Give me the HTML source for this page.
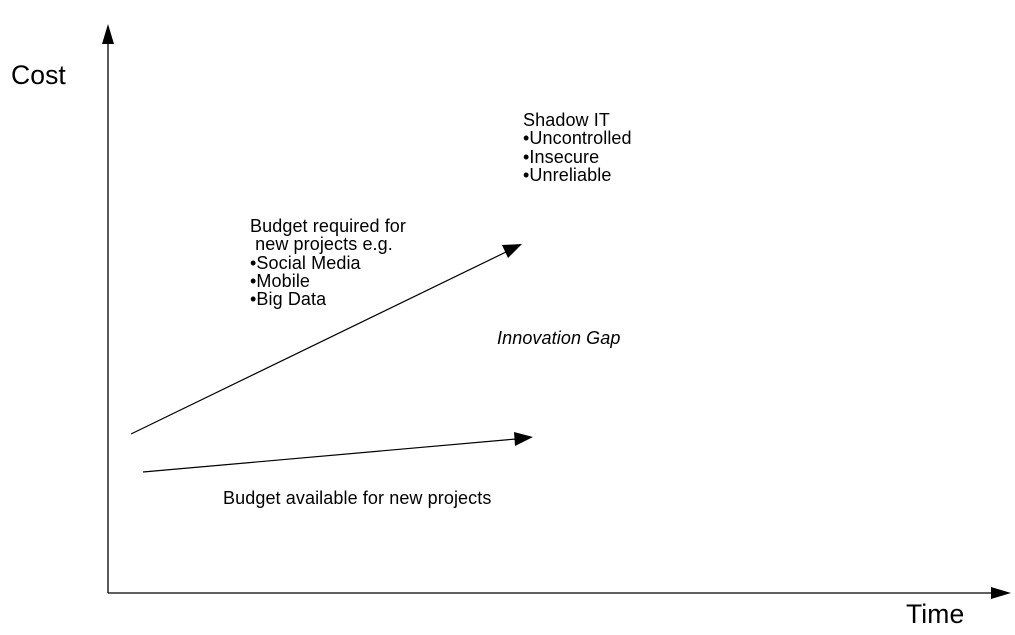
<!DOCTYPE html>
<html><head><meta charset="utf-8"><style>
html,body{margin:0;padding:0;background:#fff;}
body{width:1015px;height:635px;position:relative;overflow:hidden;font-family:"Liberation Sans",Arial,sans-serif;color:#000;}
.t{position:absolute;font-size:18px;line-height:18.3px;white-space:nowrap;letter-spacing:0.1px;}
</style></head><body>
<svg width="1015" height="635" style="position:absolute;left:0;top:0">
<line x1="108" y1="42" x2="108" y2="593" stroke="#000" stroke-width="1.3"/>
<polygon points="108,24 102,44 114,44" fill="#000"/>
<line x1="108" y1="593" x2="993" y2="593" stroke="#000" stroke-width="1.3"/>
<polygon points="1011,593 991,587 991,599" fill="#000"/>
<line x1="131" y1="434" x2="506" y2="252" stroke="#000" stroke-width="1.2"/>
<polygon points="522,244 502,245 508,258" fill="#000"/>
<line x1="143" y1="472" x2="516" y2="439" stroke="#000" stroke-width="1.2"/>
<polygon points="533,437 514,432 515,446" fill="#000"/>
</svg>
<div class="t" style="left:11px;top:60px;font-size:26.5px;line-height:30px">Cost</div>
<div class="t" style="left:906px;top:599px;font-size:26.5px;line-height:30px">Time</div>
<div class="t" style="left:523px;top:111px">Shadow IT<br>•Uncontrolled<br>•Insecure<br>•Unreliable</div>
<div class="t" style="left:250px;top:217px">Budget required for<br>&nbsp;new projects e.g.<br>•Social Media<br>•Mobile<br>•Big Data</div>
<div class="t" style="left:497px;top:329px;font-style:italic">Innovation Gap</div>
<div class="t" style="left:223px;top:489px">Budget available for new projects</div>
</body></html>
